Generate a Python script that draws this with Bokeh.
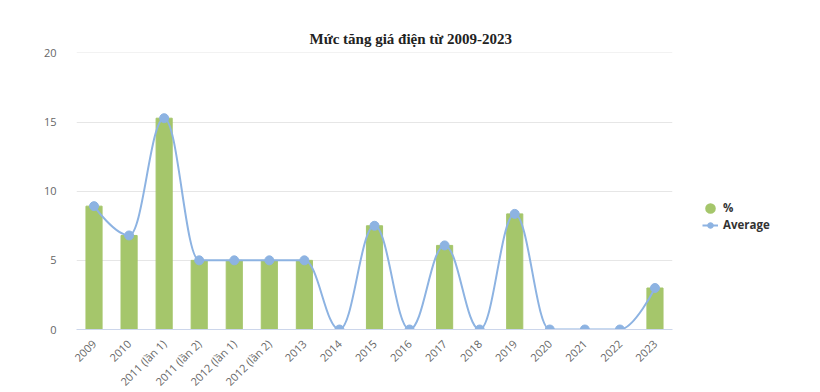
import math
from bokeh.plotting import figure
from bokeh.models import ColumnDataSource, FixedTicker, Legend, LegendItem
from bokeh.embed import file_html
from bokeh.resources import INLINE

categories = ["2009", "2010", "2011 (lần 1)", "2011 (lần 2)", "2012 (lần 1)", "2012 (lần 2)",
              "2013", "2014", "2015", "2016", "2017", "2018", "2019", "2020", "2021", "2022", "2023"]
pct = [8.92, 6.8, 15.28, 5, 5, 5, 5, 0, 7.5, 0, 6.08, 0, 8.36, 0, 0, 0, 3]
avg = [8.92, 6.8, 15.28, 5, 5, 5, 5, 0, 7.5, 0, 6.08, 0, 8.36, 0, 0, 0, 3]
y_ticks = [0, 5, 10, 15, 20]

BAR = "#a5c66b"
LINE = "#8db3e2"

xs = list(range(len(categories)))

p = figure(frame_height=277, frame_width=596, x_range=(-0.5, len(categories) - 0.5), y_range=(0, 20.03),
           output_backend="svg", toolbar_location=None,
           min_border_left=76, min_border_right=132, min_border_top=52, min_border_bottom=0)
p.title.text = "Mức tăng giá điện từ 2009-2023"
p.title.text_font = "Liberation Serif"
p.title.text_font_size = "15px"
p.title.text_font_style = "bold"
p.title.text_color = "#222222"
p.title.align = "left"
p.title.offset = 233
p.title.standoff = 12

r_bars = p.vbar(x=xs, top=pct, width=0.46, color=BAR)

# Highcharts-like spline through the average points
def controls(xv, yv, s=1.5):
    n = len(xv)
    d = s + 1
    L = [None] * n
    R = [None] * n
    for i in range(1, n - 1):
        px, py = xv[i], yv[i]
        lx, ly = xv[i - 1], yv[i - 1]
        nx, ny = xv[i + 1], yv[i + 1]
        lcx = (s * px + lx) / d
        lcy = (s * py + ly) / d
        rcx = (s * px + nx) / d
        rcy = (s * py + ny) / d
        if rcx != lcx:
            corr = ((rcy - lcy) * (rcx - px)) / (rcx - lcx) + py - rcy
            lcy += corr
            rcy += corr
        if lcy > ly and lcy > py:
            lcy = max(ly, py); rcy = 2 * py - lcy
        elif lcy < ly and lcy < py:
            lcy = min(ly, py); rcy = 2 * py - lcy
        if rcy > ny and rcy > py:
            rcy = max(ny, py); lcy = 2 * py - rcy
        elif rcy < ny and rcy < py:
            rcy = min(ny, py); lcy = 2 * py - rcy
        L[i] = (lcx, lcy)
        R[i] = (rcx, rcy)
    seg = dict(x0=[], y0=[], x1=[], y1=[], cx0=[], cy0=[], cx1=[], cy1=[])
    for i in range(1, n):
        a = R[i - 1] if R[i - 1] is not None else (xv[i - 1], yv[i - 1])
        b = L[i] if L[i] is not None else (xv[i], yv[i])
        seg["x0"].append(xv[i - 1]); seg["y0"].append(yv[i - 1])
        seg["x1"].append(xv[i]); seg["y1"].append(yv[i])
        seg["cx0"].append(a[0]); seg["cy0"].append(a[1])
        seg["cx1"].append(b[0]); seg["cy1"].append(b[1])
    return seg

r_curve = p.bezier(source=ColumnDataSource(controls(xs, avg)), x0="x0", y0="y0", x1="x1", y1="y1",
                   cx0="cx0", cy0="cy0", cx1="cx1", cy1="cy1", line_color=LINE, line_width=2)
# legend swatch for the bars (zero-size markers, hidden under the line's points)
r_pct = p.scatter(x=xs, y=pct, size=0, marker="circle", fill_color=BAR, line_color=BAR, line_width=5)
r_pts = p.scatter(x=xs, y=avg, size=9, color=LINE)

legend = Legend(items=[LegendItem(label="%", renderers=[r_pct]),
                       LegendItem(label="Average", renderers=[r_curve, r_pts])],
                location=(30, 97), border_line_color=None, background_fill_alpha=0,
                label_text_font="Open Sans", label_text_font_size="11.5px",
                label_text_font_style="bold", label_text_color="#333333",
                glyph_width=16, glyph_height=14, spacing=2, label_standoff=5,
                label_height=14, padding=0, margin=0)
p.add_layout(legend, "right")

# axes
p.xaxis.ticker = FixedTicker(ticks=xs)
p.xaxis.major_label_overrides = {i: c for i, c in enumerate(categories)}
p.xaxis.major_label_orientation = math.pi / 4
p.xaxis.axis_line_color = "#ccd6eb"
p.xaxis.major_tick_line_color = None
p.xaxis.minor_tick_line_color = None
p.xaxis.major_label_text_font = "Open Sans"
p.xaxis.major_label_text_font_size = "11px"
p.xaxis.major_label_text_color = "#666666"
p.xaxis.major_label_standoff = 6

p.yaxis.ticker = FixedTicker(ticks=y_ticks)
p.yaxis.axis_line_color = None
p.yaxis.major_tick_line_color = None
p.yaxis.minor_tick_line_color = None
p.yaxis.major_label_text_font = "Open Sans"
p.yaxis.major_label_text_font_size = "11px"
p.yaxis.major_label_text_color = "#666666"
p.yaxis.major_label_standoff = 14

p.xgrid.grid_line_color = None
p.ygrid.grid_line_color = "#e6e6e6"
p.outline_line_color = None
p.background_fill_color = "white"

open("out.html", "w").write(file_html(p, INLINE))
